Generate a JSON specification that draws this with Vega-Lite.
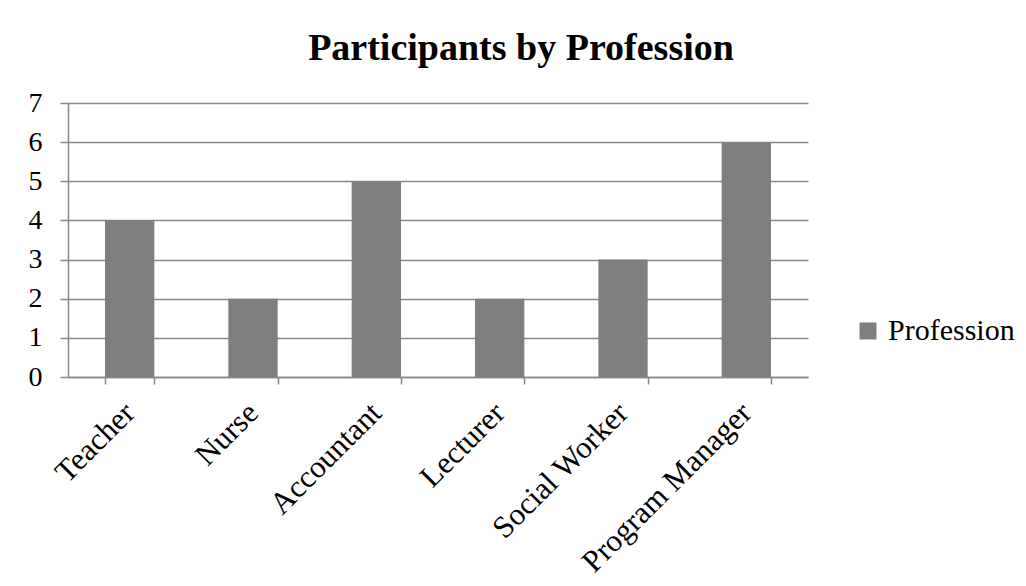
{
  "$schema": "https://vega.github.io/schema/vega-lite/v6.json",
  "autosize": "none",
  "width": 740,
  "height": 274,
  "padding": {"left": 68, "top": 103, "right": 218, "bottom": 209},
  "background": "white",
  "title": {
    "text": "Participants by Profession",
    "font": "Liberation Serif",
    "fontSize": 38,
    "fontWeight": "bold",
    "color": "#000000",
    "anchor": "middle",
    "dx": 83,
    "offset": 21
  },
  "data": {
    "values": [
      {"profession": "Teacher", "count": 4, "series": "Profession"},
      {"profession": "Nurse", "count": 2, "series": "Profession"},
      {"profession": "Accountant", "count": 5, "series": "Profession"},
      {"profession": "Lecturer", "count": 2, "series": "Profession"},
      {"profession": "Social Worker", "count": 3, "series": "Profession"},
      {"profession": "Program Manager", "count": 6, "series": "Profession"}
    ]
  },
  "mark": {"type": "bar", "color": "#7f7f7f"},
  "encoding": {
    "x": {
      "field": "profession",
      "type": "nominal",
      "sort": null,
      "scale": {"paddingInner": 0.6, "paddingOuter": 0.3},
      "axis": {
        "title": null,
        "labelAngle": -45,
        "labelAlign": "right",
        "labelBaseline": "middle",
        "labelFontSize": 31,
        "labelPadding": 24,
        "labelOverlap": false,
        "labelLimit": 0,
        "tickBand": "extent",
        "tickSize": 7,
        "grid": false
      }
    },
    "y": {
      "field": "count",
      "type": "quantitative",
      "scale": {"domain": [0, 7], "nice": false},
      "axis": {
        "title": null,
        "values": [0, 1, 2, 3, 4, 5, 6, 7],
        "labelFontSize": 28,
        "labelPadding": 18,
        "tickSize": 8,
        "grid": true,
        "gridColor": "#888888",
        "gridWidth": 1.5
      }
    },
    "fill": {
      "field": "series",
      "type": "nominal",
      "scale": {"range": ["#7f7f7f"]},
      "legend": {
        "title": null,
        "orient": "none",
        "legendX": 785,
        "legendY": 213,
        "padding": 0,
        "symbolType": "square",
        "symbolSize": 289,
        "symbolStrokeWidth": 0,
        "labelFontSize": 30,
        "labelOffset": 5
      }
    }
  },
  "config": {
    "view": {"stroke": null},
    "font": "Liberation Serif",
    "axis": {
      "labelFont": "Liberation Serif",
      "labelColor": "#000000",
      "tickColor": "#888888",
      "tickWidth": 1.5,
      "domainColor": "#888888",
      "domainWidth": 1.5
    },
    "legend": {"labelFont": "Liberation Serif", "labelColor": "#000000"}
  }
}
